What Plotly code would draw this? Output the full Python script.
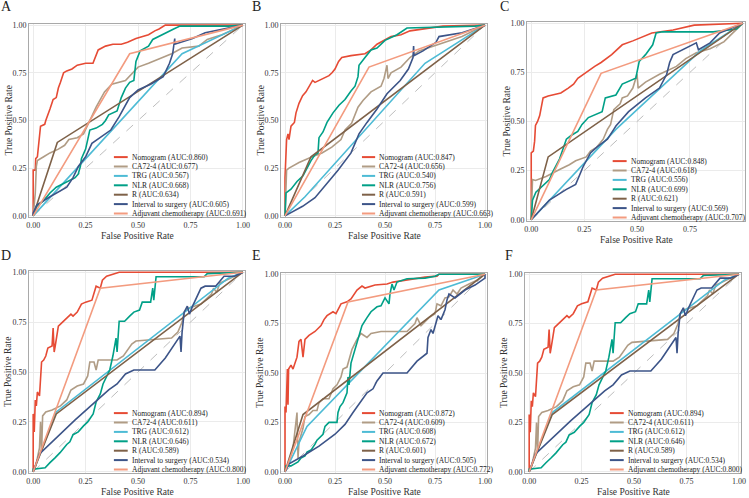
import plotly.graph_objects as go

W, H = 749, 498
FONT = "Liberation Serif, Times New Roman, DejaVu Serif, serif"

SERIES = ["Nomogram", "CA72-4", "TRG", "NLR", "R", "Interval to surgery", "Adjuvant chemotherapy"]
COLORS = ["#E64B35", "#B09C85", "#4DBBD5", "#00A087", "#7E6148", "#3C5488", "#F39B7F"]
TICKS = [0, 0.25, 0.5, 0.75, 1.0]
TICK_LABELS = ["0.00", "0.25", "0.50", "0.75", "1.00"]

AUC_A = [0.860, 0.677, 0.567, 0.668, 0.634, 0.605, 0.691]
AUC_B = [0.847, 0.656, 0.540, 0.756, 0.591, 0.599, 0.663]
AUC_C = [0.848, 0.618, 0.556, 0.699, 0.621, 0.569, 0.707]
AUC_D = [0.894, 0.611, 0.612, 0.646, 0.589, 0.534, 0.800]
AUC_E = [0.872, 0.609, 0.608, 0.672, 0.601, 0.505, 0.772]
AUC_F = [0.894, 0.611, 0.612, 0.646, 0.589, 0.534, 0.800]

# ---- Panel A (FPR, TPR) ----
A_NOM = [(0,0),(0,0.24),(0.01,0.24),(0.012,0.30),(0.02,0.31),(0.03,0.44),(0.035,0.47),(0.055,0.48),(0.06,0.50),(0.08,0.56),(0.095,0.61),(0.11,0.62),(0.12,0.67),(0.13,0.70),(0.145,0.75),(0.16,0.76),(0.185,0.77),(0.21,0.79),(0.25,0.80),(0.285,0.80),(0.30,0.84),(0.31,0.87),(0.345,0.89),(0.38,0.90),(0.42,0.90),(0.45,0.91),(0.49,0.93),(0.52,0.94),(0.55,0.95),(0.58,0.97),(0.60,0.98),(0.63,1.0),(1,1)]
A_CA = [(0,0),(0.01,0.12),(0.015,0.26),(0.02,0.29),(0.05,0.31),(0.08,0.33),(0.12,0.35),(0.15,0.37),(0.17,0.40),(0.21,0.41),(0.24,0.43),(0.26,0.48),(0.27,0.50),(0.30,0.57),(0.34,0.65),(0.375,0.69),(0.44,0.71),(0.50,0.78),(0.55,0.80),(0.66,0.85),(0.71,0.88),(0.79,0.89),(0.83,0.925),(0.90,0.95),(1,1)]
A_TRG = [(0,0),(0.71,0.85),(1,1)]
A_NLR = [(0,0),(0.017,0.05),(0.05,0.08),(0.08,0.12),(0.11,0.15),(0.16,0.18),(0.20,0.20),(0.215,0.22),(0.225,0.26),(0.23,0.30),(0.25,0.35),(0.26,0.40),(0.27,0.45),(0.30,0.46),(0.33,0.48),(0.345,0.50),(0.36,0.53),(0.40,0.55),(0.42,0.62),(0.44,0.67),(0.46,0.70),(0.48,0.71),(0.49,0.81),(0.51,0.865),(0.55,0.89),(0.57,0.925),(0.63,0.96),(0.67,0.98),(0.70,0.995),(0.93,0.995),(1,1)]
A_R = [(0,0),(0.115,0.385),(1,1)]
A_INT = [(0,0),(0,0.014),(0.017,0.057),(0.08,0.10),(0.16,0.15),(0.19,0.20),(0.216,0.26),(0.25,0.31),(0.28,0.38),(0.32,0.41),(0.37,0.45),(0.41,0.52),(0.46,0.62),(0.50,0.66),(0.56,0.69),(0.62,0.73),(0.65,0.80),(0.665,0.85),(0.675,0.93),(0.675,0.90),(0.70,0.91),(0.76,0.93),(0.82,0.96),(0.91,0.98),(1,1)]
A_ADJ = [(0,0),(0.46,0.85),(1,1)]

# ---- Panel B ----
B_NOM = [(0,0),(0,0.20),(0.008,0.40),(0.015,0.43),(0.02,0.40),(0.03,0.47),(0.047,0.49),(0.055,0.54),(0.07,0.59),(0.088,0.63),(0.105,0.65),(0.12,0.68),(0.138,0.71),(0.15,0.70),(0.187,0.72),(0.22,0.735),(0.235,0.75),(0.25,0.77),(0.268,0.81),(0.284,0.83),(0.33,0.84),(0.40,0.85),(0.43,0.87),(0.46,0.90),(0.53,0.94),(0.58,0.95),(0.625,0.97),(0.70,0.98),(0.79,0.995),(1,1)]
B_CA = [(0,0),(0.008,0.24),(0.02,0.25),(0.07,0.28),(0.136,0.31),(0.185,0.33),(0.234,0.36),(0.28,0.40),(0.30,0.45),(0.333,0.485),(0.365,0.57),(0.39,0.605),(0.43,0.65),(0.48,0.68),(0.495,0.72),(0.51,0.79),(0.515,0.72),(0.53,0.75),(0.58,0.78),(0.625,0.83),(0.67,0.865),(0.74,0.89),(0.82,0.92),(0.885,0.94),(1,1)]
B_TRG = [(0,0),(0.10,0.10),(0.70,0.80),(1,1)]
B_NLR = [(0,0),(0.005,0.12),(0.03,0.14),(0.06,0.18),(0.09,0.21),(0.11,0.25),(0.13,0.29),(0.15,0.32),(0.165,0.33),(0.17,0.41),(0.19,0.44),(0.21,0.49),(0.24,0.54),(0.27,0.58),(0.30,0.61),(0.33,0.655),(0.35,0.68),(0.365,0.73),(0.37,0.79),(0.40,0.83),(0.43,0.87),(0.46,0.88),(0.50,0.92),(0.56,0.95),(0.61,0.985),(0.95,0.995),(1,1)]
B_R = [(0,0),(0.13,0.31),(1,1)]
B_INT = [(0,0),(0.088,0.05),(0.15,0.095),(0.20,0.155),(0.266,0.24),(0.33,0.33),(0.37,0.43),(0.41,0.49),(0.46,0.56),(0.51,0.64),(0.576,0.71),(0.617,0.77),(0.64,0.83),(0.643,0.89),(0.645,0.84),(0.69,0.865),(0.755,0.91),(0.77,0.94),(0.885,0.96),(1,1)]
B_ADJ = [(0,0),(0.42,0.78),(1,1)]

# ---- Panel C ----
C_NOM = [(0,0),(0,0.34),(0.01,0.35),(0.016,0.40),(0.02,0.48),(0.03,0.50),(0.04,0.53),(0.05,0.60),(0.056,0.62),(0.08,0.63),(0.14,0.645),(0.175,0.67),(0.20,0.69),(0.22,0.72),(0.27,0.76),(0.30,0.78),(0.33,0.80),(0.38,0.84),(0.43,0.89),(0.48,0.91),(0.57,0.95),(0.67,0.965),(0.77,0.99),(0.97,1),(1,1)]
C_CA = [(0,0),(0.006,0.205),(0.02,0.20),(0.07,0.22),(0.134,0.256),(0.18,0.28),(0.21,0.30),(0.26,0.32),(0.28,0.35),(0.31,0.37),(0.34,0.41),(0.36,0.46),(0.375,0.485),(0.39,0.56),(0.42,0.59),(0.43,0.62),(0.455,0.63),(0.48,0.67),(0.50,0.74),(0.505,0.67),(0.54,0.70),(0.606,0.74),(0.686,0.78),(0.73,0.82),(0.78,0.85),(0.845,0.87),(0.91,0.905),(1,1)]
C_TRG = [(0,0),(0.40,0.46),(0.80,0.86),(1,1)]
C_NLR = [(0,0),(0.006,0.10),(0.022,0.14),(0.054,0.17),(0.086,0.205),(0.10,0.24),(0.134,0.31),(0.15,0.36),(0.166,0.41),(0.19,0.43),(0.22,0.45),(0.24,0.485),(0.27,0.52),(0.335,0.55),(0.35,0.62),(0.40,0.635),(0.43,0.69),(0.494,0.72),(0.51,0.805),(0.54,0.84),(0.574,0.89),(0.59,0.95),(0.62,0.956),(0.86,0.956),(0.97,0.97),(1,1)]
C_R = [(0,0),(0.08,0.32),(1,1)]
C_INT = [(0,0),(0.086,0.10),(0.166,0.155),(0.21,0.18),(0.245,0.27),(0.28,0.34),(0.31,0.37),(0.36,0.41),(0.39,0.46),(0.40,0.477),(0.46,0.55),(0.54,0.62),(0.606,0.67),(0.64,0.74),(0.654,0.80),(0.67,0.84),(0.78,0.90),(0.79,0.865),(0.845,0.90),(0.89,0.95),(1,1)]
C_ADJ = [(0,0),(0.33,0.745),(1,1)]

# ---- Panel D ----
D_NOM = [(0,0),(0,0.29),(0.005,0.20),(0.01,0.36),(0.015,0.33),(0.02,0.40),(0.03,0.38),(0.035,0.48),(0.04,0.55),(0.05,0.56),(0.06,0.58),(0.07,0.62),(0.09,0.63),(0.095,0.72),(0.10,0.60),(0.105,0.63),(0.12,0.73),(0.14,0.75),(0.16,0.77),(0.18,0.79),(0.19,0.78),(0.21,0.80),(0.23,0.84),(0.25,0.85),(0.28,0.86),(0.29,0.90),(0.30,0.93),(0.32,0.92),(0.33,0.96),(0.35,0.98),(0.38,0.99),(0.41,1.0),(1,1)]
D_CA = [(0,0),(0.01,0.02),(0.03,0.12),(0.035,0.25),(0.04,0.10),(0.045,0.28),(0.06,0.30),(0.09,0.31),(0.13,0.33),(0.16,0.36),(0.18,0.41),(0.21,0.43),(0.24,0.44),(0.26,0.48),(0.27,0.55),(0.29,0.55),(0.30,0.51),(0.31,0.56),(0.40,0.56),(0.43,0.58),(0.47,0.64),(0.49,0.655),(0.66,0.67),(0.69,0.70),(0.71,0.75),(0.72,0.80),(0.74,0.82),(0.80,0.84),(0.83,0.87),(0.85,0.89),(0.86,0.92),(0.875,0.90),(0.89,0.945),(1,1)]
D_TRG = [(0,0),(0.11,0.30),(0.93,0.97),(1,1)]
D_NLR = [(0,0),(0,0.013),(0.057,0.02),(0.065,0.03),(0.08,0.046),(0.104,0.07),(0.128,0.096),(0.16,0.137),(0.175,0.15),(0.19,0.186),(0.215,0.20),(0.24,0.23),(0.26,0.25),(0.286,0.29),(0.30,0.35),(0.32,0.39),(0.333,0.44),(0.365,0.51),(0.38,0.58),(0.395,0.67),(0.40,0.60),(0.41,0.754),(0.436,0.754),(0.46,0.78),(0.48,0.80),(0.507,0.81),(0.52,0.85),(0.56,0.85),(0.57,0.92),(0.575,0.86),(0.586,0.977),(0.815,0.977),(0.83,0.993),(1,1)]
D_R = [(0,0),(0.11,0.29),(1,1)]
D_INT = [(0,0),(0.03,0.09),(0.20,0.26),(0.36,0.41),(0.40,0.44),(0.44,0.49),(0.48,0.51),(0.58,0.51),(0.63,0.57),(0.66,0.62),(0.70,0.68),(0.705,0.60),(0.71,0.70),(0.72,0.80),(0.735,0.83),(0.745,0.79),(0.76,0.83),(0.80,0.92),(0.82,0.93),(0.87,0.93),(0.91,0.98),(0.96,0.98),(1,1)]
D_ADJ = [(0,0),(0.32,0.92),(1,1)]

# ---- Panel E ----
E_NOM = [(0,0),(0,0.33),(0.005,0.30),(0.008,0.45),(0.012,0.52),(0.015,0.34),(0.018,0.52),(0.03,0.54),(0.04,0.52),(0.06,0.58),(0.07,0.66),(0.08,0.67),(0.09,0.58),(0.10,0.67),(0.12,0.69),(0.15,0.71),(0.18,0.74),(0.195,0.77),(0.21,0.79),(0.24,0.81),(0.255,0.80),(0.28,0.85),(0.31,0.86),(0.33,0.875),(0.36,0.92),(0.385,0.94),(0.40,0.93),(0.45,0.945),(0.51,0.95),(0.54,0.96),(0.60,0.97),(0.70,0.985),(0.76,0.99),(0.77,1),(1,1)]
E_CA = [(0,0),(0.02,0.05),(0.04,0.12),(0.05,0.20),(0.055,0.27),(0.06,0.30),(0.065,0.07),(0.07,0.15),(0.09,0.22),(0.10,0.28),(0.12,0.29),(0.14,0.31),(0.16,0.31),(0.17,0.35),(0.19,0.37),(0.22,0.37),(0.24,0.42),(0.26,0.44),(0.28,0.48),(0.29,0.52),(0.31,0.53),(0.335,0.62),(0.36,0.67),(0.38,0.70),(0.41,0.68),(0.43,0.70),(0.48,0.71),(0.55,0.71),(0.61,0.71),(0.65,0.75),(0.66,0.78),(0.68,0.74),(0.72,0.78),(0.75,0.80),(0.76,0.85),(0.78,0.84),(0.80,0.88),(0.82,0.885),(0.84,0.92),(0.86,0.90),(0.88,0.93),(0.92,0.95),(0.96,0.97),(1,1)]
E_TRG = [(0,0),(0.11,0.23),(0.77,0.92),(1,1)]
E_NLR = [(0,0),(0.005,0.03),(0.03,0.03),(0.05,0.04),(0.065,0.05),(0.08,0.07),(0.10,0.08),(0.11,0.10),(0.13,0.11),(0.15,0.14),(0.16,0.16),(0.19,0.19),(0.20,0.23),(0.22,0.25),(0.26,0.25),(0.265,0.30),(0.275,0.33),(0.29,0.35),(0.31,0.40),(0.315,0.48),(0.32,0.44),(0.33,0.55),(0.345,0.60),(0.36,0.66),(0.375,0.70),(0.385,0.74),(0.41,0.78),(0.43,0.81),(0.46,0.835),(0.48,0.84),(0.50,0.88),(0.52,0.85),(0.525,0.90),(0.535,0.95),(0.545,0.92),(0.56,0.96),(0.61,0.977),(0.70,0.98),(0.75,0.99),(0.77,1),(1,1)]
E_R = [(0,0),(0.09,0.29),(1,1)]
E_INT = [(0,0),(0.02,0.04),(0.09,0.08),(0.17,0.13),(0.25,0.19),(0.30,0.24),(0.34,0.30),(0.38,0.36),(0.41,0.40),(0.44,0.42),(0.46,0.46),(0.49,0.50),(0.61,0.50),(0.66,0.56),(0.71,0.60),(0.715,0.68),(0.73,0.72),(0.74,0.70),(0.765,0.79),(0.78,0.77),(0.80,0.82),(0.81,0.87),(0.82,0.90),(0.85,0.88),(0.90,0.92),(0.95,0.945),(1.0,0.98),(1,1)]
E_ADJ = [(0,0),(0.315,0.86),(1,1)]

# ---- Panel F (same cohort values as D) ----
F_NOM, F_CA, F_TRG, F_NLR, F_R, F_INT, F_ADJ = D_NOM, D_CA, D_TRG, D_NLR, D_R, D_INT, D_ADJ

LETTERS = ["A", "B", "C", "D", "E", "F"]
# plot frame in pixels: left, right, top, bottom
FRAMES = [(29, 245, 24, 217), (281, 487, 24, 217), (527, 745, 22, 221),
          (29, 245, 271, 473), (281, 487, 273, 473), (525, 741, 273, 473)]
LETTER_POS = [(6, 7), (256, 7), (504, 7), (6, 255), (256, 256), (509, 255)]
PANEL_AUC = [AUC_A, AUC_B, AUC_C, AUC_D, AUC_E, AUC_F]
PANEL_CURVES = [
    [A_NOM, A_CA, A_TRG, A_NLR, A_R, A_INT, A_ADJ],
    [B_NOM, B_CA, B_TRG, B_NLR, B_R, B_INT, B_ADJ],
    [C_NOM, C_CA, C_TRG, C_NLR, C_R, C_INT, C_ADJ],
    [D_NOM, D_CA, D_TRG, D_NLR, D_R, D_INT, D_ADJ],
    [E_NOM, E_CA, E_TRG, E_NLR, E_R, E_INT, E_ADJ],
    [F_NOM, F_CA, F_TRG, F_NLR, F_R, F_INT, F_ADJ],
]

XR = [-0.02, 1.01]
YR = [-0.006, 1.006]


def px(xp):
    return xp / W


def py(yp):
    return 1 - yp / H


fig = go.Figure()
layout = {}
annotations = []
shapes = []
axis_font = dict(family=FONT, size=8, color="#333333")

for i in range(6):
    n = i + 1
    sfx = "" if n == 1 else str(n)
    xref, yref = "x" + sfx, "y" + sfx
    l, r, t, b = FRAMES[i]
    common = dict(showgrid=True, gridcolor="#ebebeb", gridwidth=0.8, zeroline=False,
                  showline=True, mirror=True, linecolor="#a9a9a9", linewidth=1,
                  ticks="", tickfont=axis_font, tickvals=TICKS, ticktext=TICK_LABELS,
                  fixedrange=True, automargin=False)
    layout["xaxis" + sfx] = dict(domain=[px(l), px(r)], anchor=yref, range=XR, **common)
    layout["yaxis" + sfx] = dict(domain=[py(b), py(t)], anchor=xref, range=YR, **common)

    fig.add_trace(go.Scatter(x=[0, 1], y=[0, 1], mode="lines",
                             line=dict(color="#b5b5b5", width=0.9, dash="dash"),
                             xaxis=xref, yaxis=yref, showlegend=False, hoverinfo="skip"))
    for s in range(7):
        curve = PANEL_CURVES[i][s]
        label = f"{SERIES[s]} (AUC:{PANEL_AUC[i][s]:.3f})"
        fig.add_trace(go.Scatter(x=[p[0] for p in curve], y=[p[1] for p in curve],
                                 mode="lines", name=label,
                                 line=dict(color=COLORS[s], width=1.6),
                                 xaxis=xref, yaxis=yref, showlegend=False))
        # manual compact legend
        ly = b - 3.5 - (6 - s) * 9.4
        wdt = r - l
        lx0, lx1, tx = l + 0.393 * wdt, l + 0.457 * wdt, l + 0.466 * wdt
        shapes.append(dict(type="line", xref="paper", yref="paper", x0=px(lx0), x1=px(lx1),
                           y0=py(ly), y1=py(ly), line=dict(color=COLORS[s], width=2)))
        annotations.append(dict(text=label, x=px(tx), y=py(ly), xref="paper", yref="paper",
                                xanchor="left", yanchor="middle", showarrow=False,
                                font=dict(family=FONT, size=7.5, color="#222222")))
    # axis titles
    annotations.append(dict(text="False Positive Rate", x=px((l + r) / 2), y=py(b + 19),
                            xref="paper", yref="paper", xanchor="center", yanchor="middle",
                            showarrow=False, font=dict(family=FONT, size=9.5, color="#333333")))
    annotations.append(dict(text="True Positive Rate", x=px(l - 21), y=py((t + b) / 2),
                            xref="paper", yref="paper", xanchor="center", yanchor="middle",
                            textangle=-90, showarrow=False,
                            font=dict(family=FONT, size=9.5, color="#333333")))
    lx, lyy = LETTER_POS[i]
    annotations.append(dict(text=LETTERS[i], x=px(lx), y=py(lyy), xref="paper", yref="paper",
                            xanchor="center", yanchor="middle", showarrow=False,
                            font=dict(family=FONT, size=14, color="#222222")))

fig.update_layout(width=W, height=H, margin=dict(l=0, r=0, t=0, b=0),
                  paper_bgcolor="white", plot_bgcolor="white", showlegend=False,
                  font=dict(family=FONT),
                  annotations=annotations, shapes=shapes, **layout)

fig.write_html("out.html")
